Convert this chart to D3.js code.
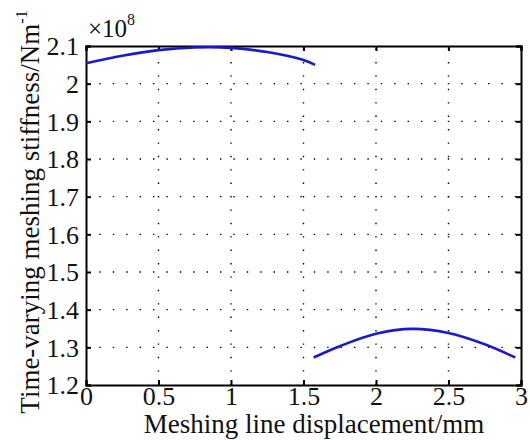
<!DOCTYPE html>
<html>
<head>
<meta charset="utf-8">
<script src="https://cdn.jsdelivr.net/npm/d3@7"></script>
</head>
<body style="margin:0;background:#fff">
<svg id="chart" width="530" height="440" style="display:block;font-family:'Liberation Serif'"></svg>
<script>
// Meshing line displacement (mm) and stiffness (×10^8 N/m) for the two tooth-pair segments
const seg1X = [0, 0.25, 0.5, 0.75, 1.0, 1.25, 1.5, 1.58];
const seg1Y = [2.054, 2.074, 2.089, 2.096, 2.095, 2.084, 2.063, 2.050];
const seg2X = [1.57, 1.75, 2.0, 2.25, 2.5, 2.75, 2.96];
const seg2Y = [1.273, 1.303, 1.336, 1.349, 1.338, 1.308, 1.273];
const xTicks = [0, 0.5, 1, 1.5, 2, 2.5, 3];
const yTicks = [1.2, 1.3, 1.4, 1.5, 1.6, 1.7, 1.8, 1.9, 2, 2.1];

const FONT = "Liberation Serif";
const svg = d3.select("#chart");
const m = { left: 86, right: 521, top: 46, bottom: 385 };
const x = d3.scaleLinear().domain([0, 3]).range([m.left, m.right]);
const y = d3.scaleLinear().domain([1.2, 2.1]).range([m.bottom, m.top]);

// dotted grid
const grid = svg.append("g").attr("stroke", "#000").attr("stroke-width", 1.4)
  .attr("stroke-dasharray", "1.4,12");
xTicks.slice(1, -1).forEach(t => {
  grid.append("line").attr("x1", x(t)).attr("x2", x(t)).attr("y1", m.bottom).attr("y2", m.top);
});
yTicks.slice(1, -1).forEach(t => {
  grid.append("line").attr("x1", m.left).attr("x2", m.right).attr("y1", y(t)).attr("y2", y(t));
});

// box axes with inward ticks on all four sides
const fmt = d => String(d);
const axB = svg.append("g").attr("transform", `translate(0,${m.bottom})`)
  .call(d3.axisBottom(x).tickValues(xTicks).tickSize(-5).tickPadding(4).tickFormat(fmt));
const axT = svg.append("g").attr("transform", `translate(0,${m.top})`)
  .call(d3.axisTop(x).tickValues(xTicks).tickSize(-5).tickFormat(""));
const axL = svg.append("g").attr("transform", `translate(${m.left},0)`)
  .call(d3.axisLeft(y).tickValues(yTicks).tickSize(-5).tickPadding(7).tickFormat(fmt));
const axR = svg.append("g").attr("transform", `translate(${m.right},0)`)
  .call(d3.axisRight(y).tickValues(yTicks).tickSize(-5).tickFormat(""));
[axB, axT, axL, axR].forEach(a => {
  a.attr("font-family", FONT).attr("font-size", 26);
  a.select(".domain").attr("stroke", "#000").attr("stroke-width", 2);
  a.selectAll(".tick line").attr("stroke", "#000").attr("stroke-width", 2);
  a.selectAll("text").attr("fill", "#111").attr("font-family", FONT).attr("font-size", 26);
});
axB.selectAll("text").attr("dy", "0.62em");
axL.selectAll("text").attr("dy", "0.34em");

// stiffness curves
const line = d3.line().x(d => x(d[0])).y(d => y(d[1])).curve(d3.curveCatmullRom);
[[seg1X, seg1Y], [seg2X, seg2Y]].forEach(([xs, ys]) => {
  svg.append("path").datum(xs.map((v, i) => [v, ys[i]]))
    .attr("d", line).attr("fill", "none").attr("stroke", "#1a1acc").attr("stroke-width", 2.6);
});

// exponent label
const ex = svg.append("text").attr("x", 88).attr("y", 37).attr("fill", "#111")
  .attr("font-family", FONT).attr("font-size", 25);
ex.append("tspan").text("×10");
ex.append("tspan").attr("dy", -12).attr("font-size", 16).text("8");

// axis titles
svg.append("text").attr("x", 314).attr("y", 433).attr("text-anchor", "middle").attr("fill", "#111")
  .attr("font-family", FONT).attr("font-size", 27).text("Meshing line displacement/mm");
const yl = svg.append("text").attr("transform", "translate(39,212) rotate(-90)")
  .attr("text-anchor", "middle").attr("fill", "#111")
  .attr("font-family", FONT).attr("font-size", 27);
yl.append("tspan").text("Time-varying meshing stiffness/Nm");
yl.append("tspan").attr("dy", -12).attr("font-size", 16).text("-1");
</script>
</body>
</html>
